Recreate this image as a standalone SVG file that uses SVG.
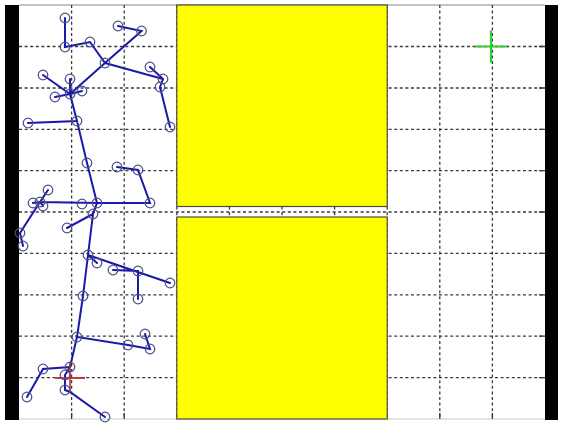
<svg xmlns="http://www.w3.org/2000/svg" width="563" height="425" viewBox="0 0 563 425">
<style>
.grid{stroke:#3a3a3a;stroke-width:1.3;stroke-dasharray:3,2.6;fill:none}
.tick{stroke:#3a3a3a;stroke-width:1.3}
.obs{fill:#ffff00;stroke:#4a4a4a;stroke-width:1.2}
.edge{stroke:#1a1aaa;stroke-width:2;fill:none;stroke-linecap:round}
.node{fill:none;stroke:#4d4d8a;stroke-width:1.2}
</style>
<defs>
<circle id="n" r="4.8" class="node"/>
</defs>
<rect x="0" y="0" width="563" height="425" fill="#ffffff"/>
<rect x="19" y="5" width="526" height="414" fill="#ffffff"/>
<line x1="19" y1="5" x2="545" y2="5" stroke="#888" stroke-width="1"/>
<line x1="19" y1="419" x2="545" y2="419" stroke="#cfe3cf" stroke-width="1.5"/>
<g id="grid">
<path class="grid" d="M71.6 5V419M124.2 5V419M176.8 5V419M229.4 5V419M282 5V419M334.6 5V419M387.2 5V419M439.8 5V419M492.4 5V419"/>
<path class="grid" d="M19 46.5H545M19 88H545M19 129.3H545M19 170.7H545M19 212H545M19 253.4H545M19 294.8H545M19 336.2H545M19 377.6H545"/>
<path class="tick" d="M71.6 413V419M124.2 413V419M439.8 413V419M492.4 413V419M539 46.5H545M539 88H545M539 129.3H545M539 170.7H545M539 212H545M539 253.4H545M539 294.8H545M539 336.2H545M539 377.6H545"/>
</g>
<g id="obstacle-top"><rect class="obs" x="176.8" y="5" width="210.4" height="201.5"/></g>
<g id="obstacle-bottom"><rect class="obs" x="176.8" y="217" width="210.4" height="202"/></g>
<g id="walls">
<rect x="5" y="5" width="14" height="415" fill="#000"/>
<rect x="545" y="5" width="13" height="415" fill="#000"/>
</g>
<g id="goal"><path d="M475 46.5H507M491 30.5V62.5" stroke="#33cc33" stroke-width="2.2"/></g>
<g id="connectors">
<path class="edge" d="M65 18L65 47L90 42L105 63L141.5 31L118 26M105 63L163 79L150 67M163 79L160 87L170 127M105 63L70 94L43 75M70 94L70 79M70 94L82 91M70 94L55 97M70 94L77 121L28 123M77 121L87 163L97 203L40 202L48 190M40 202L33 203M40 202L43 206M40 202L20 233L23 246M117 167L138 170L150 203L97 203M97 203L93 214L67 228M93 214L88 255L97 263M88 255L170 283M113 270L138 271L138 299M88 255L83 296L77 337L128 345L150 349L145 334M77 337L70 367L43 369L27 397M70 367L65 375L65 390L70 392L105 417"/>
</g>
<g id="start"><path d="M55 378H85M70 362V392" stroke="#cc2222" stroke-width="1.8" opacity="0.85"/></g>
<g id="nodes">
<use href="#n" x="65" y="18"/><use href="#n" x="65" y="47"/><use href="#n" x="90" y="42"/><use href="#n" x="105" y="63"/>
<use href="#n" x="141.5" y="31"/><use href="#n" x="118" y="26"/><use href="#n" x="163" y="79"/><use href="#n" x="150" y="67"/>
<use href="#n" x="160" y="87"/><use href="#n" x="170" y="127"/><use href="#n" x="70" y="94"/><use href="#n" x="43" y="75"/>
<use href="#n" x="70" y="79"/><use href="#n" x="82" y="91"/><use href="#n" x="55" y="97"/><use href="#n" x="77" y="121"/>
<use href="#n" x="28" y="123"/><use href="#n" x="87" y="163"/><use href="#n" x="97" y="203"/><use href="#n" x="82" y="204"/>
<use href="#n" x="40" y="202"/><use href="#n" x="48" y="190"/><use href="#n" x="33" y="203"/><use href="#n" x="43" y="206"/>
<use href="#n" x="20" y="233"/><use href="#n" x="23" y="246"/><use href="#n" x="117" y="167"/><use href="#n" x="138" y="170"/>
<use href="#n" x="150" y="203"/><use href="#n" x="93" y="214"/><use href="#n" x="67" y="228"/><use href="#n" x="88" y="255"/>
<use href="#n" x="97" y="263"/><use href="#n" x="170" y="283"/><use href="#n" x="113" y="270"/><use href="#n" x="138" y="271"/>
<use href="#n" x="138" y="299"/><use href="#n" x="83" y="296"/><use href="#n" x="77" y="337"/><use href="#n" x="128" y="345"/>
<use href="#n" x="150" y="349"/><use href="#n" x="145" y="334"/><use href="#n" x="70" y="367"/><use href="#n" x="43" y="369"/>
<use href="#n" x="27" y="397"/><use href="#n" x="65" y="375"/><use href="#n" x="65" y="390"/><use href="#n" x="105" y="417"/>
</g>
</svg>
